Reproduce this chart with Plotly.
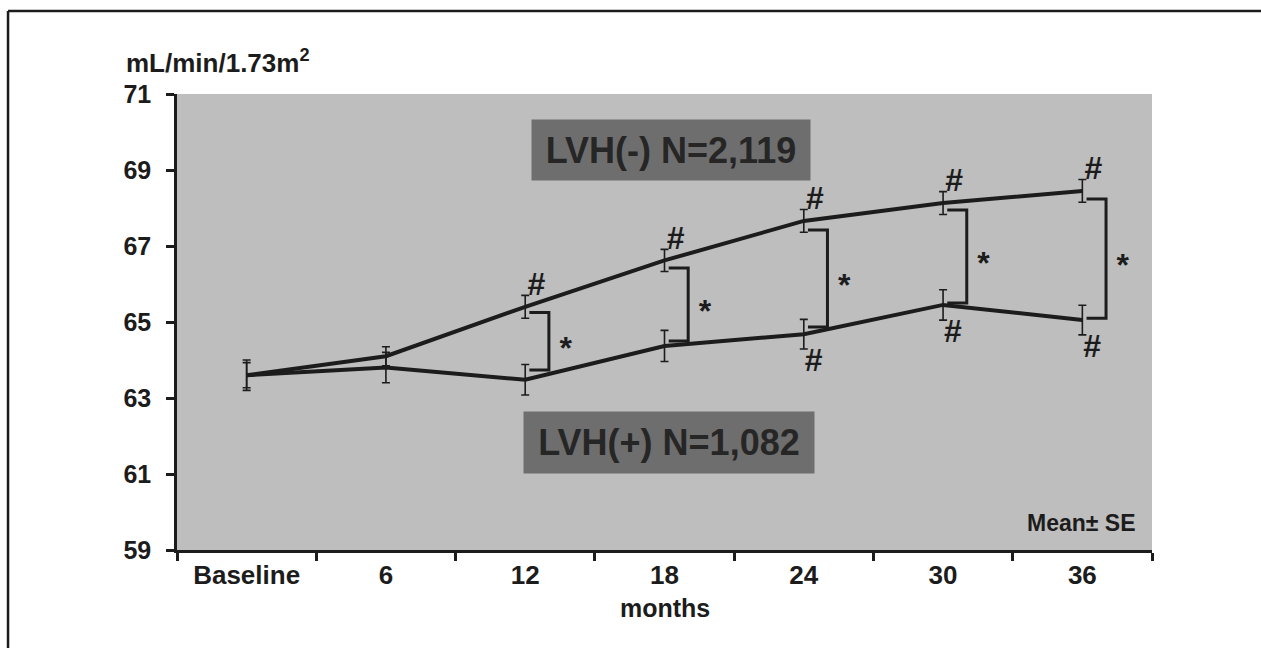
import plotly.graph_objects as go

categories = ["Baseline", "6", "12", "18", "24", "30", "36"]
neg_mean = [63.6, 64.1, 65.4, 66.62, 67.66, 68.13, 68.45]
neg_se = [0.33, 0.25, 0.3, 0.29, 0.3, 0.3, 0.3]
pos_mean = [63.6, 63.8, 63.48, 64.37, 64.68, 65.45, 65.05]
pos_se = [0.4, 0.4, 0.4, 0.41, 0.39, 0.4, 0.39]

# significance between groups (*) at these visits
star_idx = [2, 3, 4, 5, 6]
bracket_top = [65.25, 66.42, 67.42, 67.95, 68.24]
bracket_bottom = [63.74, 64.5, 64.87, 65.5, 65.1]
# significance vs baseline (#)
hash_neg_idx = [2, 3, 4, 5, 6]
hash_pos_idx = [4, 5, 6]

y_ticks = [59, 61, 63, 65, 67, 69, 71]

FONT = "Liberation Sans, Arial, sans-serif"
INK = "#1c1c1c"
xs = list(range(len(categories)))

fig = go.Figure()

for mean, se in [(neg_mean, neg_se), (pos_mean, pos_se)]:
    fig.add_trace(go.Scatter(
        x=xs, y=mean, mode="lines",
        line=dict(color=INK, width=4),
        error_y=dict(type="data", array=se, visible=True, color=INK,
                     thickness=1.6, width=4),
        showlegend=False, hoverinfo="skip"))

# brackets
for i, top, bot in zip(star_idx, bracket_top, bracket_bottom):
    x0 = i + 0.03
    xv = i + 0.17
    fig.add_trace(go.Scatter(
        x=[x0, xv, xv, x0], y=[top, top, bot, bot], mode="lines",
        line=dict(color=INK, width=3), showlegend=False, hoverinfo="skip"))

fig.add_trace(go.Scatter(
    x=[i + 0.29 for i in star_idx],
    y=[(t + b) / 2 + 0.17 for t, b in zip(bracket_top, bracket_bottom)],
    mode="text", text=["*"] * len(star_idx),
    textfont=dict(family=FONT, size=32, color=INK, weight="bold"),
    textposition="bottom center",
    showlegend=False, hoverinfo="skip"))

fig.add_trace(go.Scatter(
    x=[i + 0.08 for i in hash_neg_idx],
    y=[neg_mean[i] + neg_se[i] + 0.22 for i in hash_neg_idx],
    mode="text", text=["#"] * len(hash_neg_idx),
    textfont=dict(family=FONT, size=32, color=INK, weight="bold"),
    textposition="middle center", showlegend=False, hoverinfo="skip"))

fig.add_trace(go.Scatter(
    x=[i + 0.07 for i in hash_pos_idx],
    y=[pos_mean[i] - pos_se[i] - 0.36 for i in hash_pos_idx],
    mode="text", text=["#"] * len(hash_pos_idx),
    textfont=dict(family=FONT, size=32, color=INK, weight="bold"),
    textposition="middle center", showlegend=False, hoverinfo="skip"))

# group labels
fig.add_annotation(x=3.05, y=69.53, xref="x", yref="y", text="LVH(-) N=2,119",
                   showarrow=False, bgcolor="#6e6e6e", width=276, height=58,
                   font=dict(family=FONT, size=36, color="#262626", weight="bold"))
fig.add_annotation(x=3.03, y=61.84, xref="x", yref="y", text="LVH(+) N=1,082",
                   showarrow=False, bgcolor="#6e6e6e", width=288, height=59,
                   font=dict(family=FONT, size=36, color="#262626", weight="bold"))

fig.add_annotation(x=1, y=0, xref="paper", yref="paper", xanchor="right",
                   yanchor="middle", xshift=-14, yshift=27, text="Mean\u00b1 SE",
                   showarrow=False,
                   font=dict(family=FONT, size=23, color=INK, weight="bold"))

fig.add_annotation(x=0, y=1, xref="paper", yref="paper", xanchor="left",
                   yanchor="middle", xshift=-53, yshift=33,
                   text="mL/min/1.73m<sup>2</sup>", showarrow=False,
                   font=dict(family=FONT, size=26, color=INK, weight="bold"))

fig.add_annotation(x=0.5, y=0, xref="paper", yref="paper", xanchor="center",
                   yanchor="middle", yshift=-58, text="months", showarrow=False,
                   font=dict(family=FONT, size=25, color=INK, weight="bold"))

# outer frame: left and top edges
fig.add_shape(type="line", xref="paper", yref="paper",
              x0=-0.1733, x1=-0.1733, y0=-0.3, y1=1.182,
              line=dict(color=INK, width=2.5), layer="below")
fig.add_shape(type="line", xref="paper", yref="paper",
              x0=-0.1733, x1=1.13, y0=1.182, y1=1.182,
              line=dict(color=INK, width=2.5), layer="below")

fig.update_layout(
    width=1261, height=648,
    margin=dict(l=177, r=109, t=94, b=98),
    paper_bgcolor="white", plot_bgcolor="#bebebe",
    font=dict(family=FONT, size=26, color=INK, weight="bold"),
    xaxis=dict(range=[-0.5, 6.5], tickmode="array", tickvals=xs,
               ticktext=categories, ticks="", showgrid=False, zeroline=False,
               showline=True, linecolor=INK, linewidth=2.5,
               minor=dict(ticks="outside", tick0=-0.5, dtick=1, ticklen=8,
                          tickwidth=2.5, tickcolor=INK, showgrid=False),
               tickfont=dict(size=26, weight="bold")),
    yaxis=dict(range=[59, 71], tickmode="array", tickvals=y_ticks,
               ticks="outside", ticklen=8, tickwidth=2.5, tickcolor=INK,
               showgrid=False, zeroline=False, showline=True, linecolor=INK,
               linewidth=2.5, ticklabelstandoff=10,
               tickfont=dict(size=25, weight="bold")),
)

fig.write_html("out.html")
